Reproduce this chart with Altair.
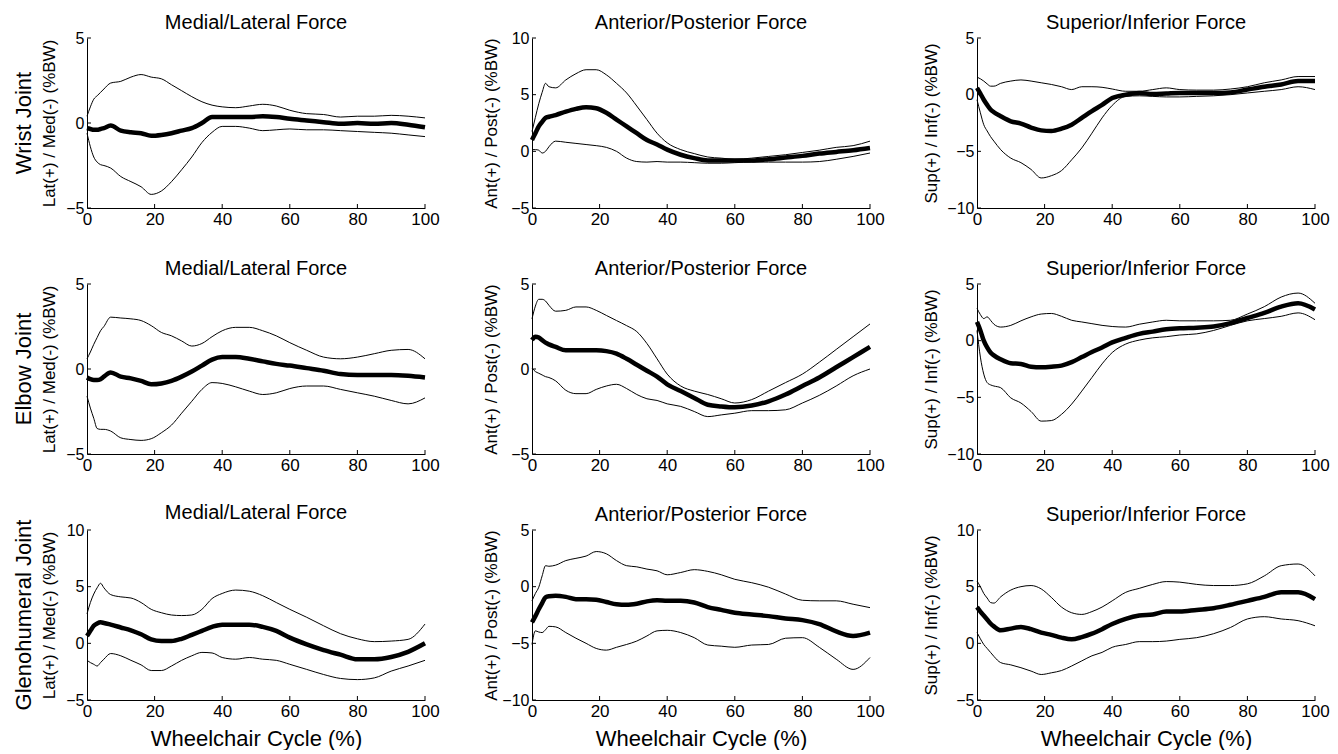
import altair as alt
import pandas as pd

FONT = "Liberation Sans"

# shared x samples (% of wheelchair cycle)
X = [0, 1, 2, 3, 4, 5, 7, 10, 13, 16, 19, 22, 25, 28, 31, 34, 37, 40, 44, 48, 52, 56, 60, 65, 70, 75, 80, 85, 90, 95, 100]
X_LABELS = [0, 20, 40, 60, 80, 100]
X_TICKS = [20, 40, 60, 80, 100]

# ---------- Wrist ----------
WRIST_ML_MEAN = [-0.3, -0.35, -0.4, -0.4, -0.35, -0.3, -0.15, -0.45, -0.55, -0.6, -0.75, -0.7, -0.6, -0.45, -0.3, 0.0, 0.35, 0.35, 0.35, 0.35, 0.4, 0.35, 0.25, 0.15, 0.05, -0.05, 0.0, -0.05, 0.0, -0.1, -0.25]
WRIST_ML_UP = [0.4, 0.95, 1.4, 1.6, 1.8, 2.0, 2.35, 2.45, 2.7, 2.85, 2.7, 2.6, 2.25, 1.9, 1.55, 1.25, 1.05, 0.95, 0.9, 1.0, 1.1, 1.0, 0.75, 0.55, 0.5, 0.35, 0.4, 0.4, 0.45, 0.4, 0.3]
WRIST_ML_LO = [-0.6, -1.4, -2.0, -2.3, -2.45, -2.5, -2.65, -3.15, -3.45, -3.75, -4.2, -4.0, -3.45, -2.75, -2.0, -1.15, -0.55, -0.2, -0.2, -0.3, -0.45, -0.4, -0.35, -0.4, -0.4, -0.45, -0.5, -0.55, -0.6, -0.7, -0.8]

WRIST_AP_MEAN = [1.0, 1.6, 2.2, 2.6, 2.95, 3.05, 3.2, 3.5, 3.75, 3.9, 3.8, 3.4, 2.8, 2.2, 1.6, 1.0, 0.6, 0.15, -0.3, -0.6, -0.8, -0.8, -0.8, -0.8, -0.7, -0.55, -0.4, -0.2, -0.05, 0.1, 0.3]
WRIST_AP_UP = [1.75, 3.0, 4.2, 5.2, 6.0, 5.7, 5.6, 6.3, 6.85, 7.2, 7.2, 6.75, 6.0, 5.15, 4.0, 2.8, 1.6, 0.75, 0.15, -0.2, -0.5, -0.6, -0.7, -0.6, -0.45, -0.3, -0.1, 0.1, 0.35, 0.5, 0.9]
WRIST_AP_LO = [0.15, 0.15, 0.1, -0.15, 0.0, 0.4, 0.9, 0.8, 0.7, 0.6, 0.5, 0.35, 0.0, -0.6, -0.9, -0.95, -0.9, -0.95, -0.95, -1.0, -1.05, -1.05, -1.0, -0.95, -0.95, -0.95, -0.95, -0.9, -0.7, -0.45, -0.15]

WRIST_SI_MEAN = [0.6, 0.1, -0.45, -0.9, -1.3, -1.55, -1.9, -2.35, -2.55, -2.9, -3.15, -3.2, -3.0, -2.65, -2.05, -1.45, -0.9, -0.3, 0.0, 0.15, 0.05, 0.1, 0.15, 0.15, 0.15, 0.2, 0.45, 0.7, 0.9, 1.2, 1.2]
WRIST_SI_UP = [1.55, 1.4, 1.2, 0.95, 0.75, 0.75, 1.0, 1.2, 1.3, 1.2, 1.05, 0.9, 0.7, 0.45, 0.7, 0.7, 0.65, 0.5, 0.3, 0.3, 0.45, 0.6, 0.45, 0.4, 0.4, 0.5, 0.7, 1.05, 1.3, 1.6, 1.6]
WRIST_SI_LO = [-0.45, -1.6, -2.65, -3.2, -3.7, -4.1, -4.85, -5.6, -6.0, -6.6, -7.35, -7.15, -6.7, -5.75, -4.7, -3.4, -2.05, -0.95, -0.15, -0.1, -0.15, -0.2, -0.2, -0.15, -0.1, 0.0, 0.15, 0.3, 0.45, 0.7, 0.45]

# ---------- Elbow ----------
ELBOW_ML_MEAN = [-0.5, -0.6, -0.65, -0.65, -0.6, -0.45, -0.2, -0.45, -0.55, -0.7, -0.9, -0.85, -0.7, -0.45, -0.15, 0.2, 0.55, 0.7, 0.7, 0.6, 0.45, 0.3, 0.2, 0.05, -0.1, -0.3, -0.35, -0.35, -0.35, -0.4, -0.5]
ELBOW_ML_UP = [0.6, 1.0, 1.45, 1.85, 2.25, 2.5, 3.05, 3.0, 2.95, 2.85, 2.55, 2.15, 1.95, 1.65, 1.35, 1.5, 1.9, 2.25, 2.45, 2.45, 2.25, 1.95, 1.55, 1.1, 0.7, 0.6, 0.7, 0.9, 1.1, 1.15, 0.6]
ELBOW_ML_LO = [-1.6, -2.3, -2.9, -3.5, -3.55, -3.55, -3.65, -4.05, -4.15, -4.2, -4.1, -3.75, -3.3, -2.6, -1.9, -1.2, -0.8, -0.85, -1.05, -1.3, -1.5, -1.4, -1.15, -1.0, -1.0, -1.2, -1.4, -1.6, -1.85, -2.05, -1.7]

ELBOW_AP_MEAN = [1.7, 1.9, 1.85, 1.7, 1.55, 1.45, 1.3, 1.1, 1.1, 1.1, 1.1, 1.05, 0.9, 0.6, 0.25, -0.1, -0.45, -0.9, -1.3, -1.7, -2.1, -2.2, -2.25, -2.15, -1.9, -1.5, -1.0, -0.5, 0.1, 0.7, 1.3]
ELBOW_AP_UP = [2.95, 3.7, 4.1, 4.1, 4.0, 3.75, 3.4, 3.45, 3.65, 3.65, 3.45, 3.15, 2.85, 2.55, 2.2, 1.5, 0.6, -0.3, -1.0, -1.3, -1.5, -1.75, -2.0, -1.8, -1.3, -0.8, -0.3, 0.4, 1.15, 1.9, 2.65]
ELBOW_AP_LO = [0.05, -0.15, -0.25, -0.35, -0.45, -0.5, -0.7, -1.25, -1.45, -1.45, -1.2, -1.0, -0.9, -1.15, -1.5, -1.75, -1.85, -2.05, -2.2, -2.5, -2.8, -2.7, -2.6, -2.45, -2.45, -2.4, -2.0, -1.55, -1.0, -0.4, 0.0]

ELBOW_SI_MEAN = [1.65, 0.9, 0.0, -0.6, -1.05, -1.3, -1.65, -2.0, -2.05, -2.3, -2.35, -2.3, -2.2, -1.9, -1.45, -1.0, -0.6, -0.15, 0.25, 0.6, 0.8, 1.0, 1.1, 1.15, 1.25, 1.55, 2.0, 2.45, 3.0, 3.3, 2.75]
ELBOW_SI_UP = [2.85, 2.3, 1.95, 2.1, 1.8, 1.45, 1.2, 1.35, 1.75, 2.1, 2.35, 2.4, 2.15, 1.8, 1.65, 1.5, 1.35, 1.25, 1.2, 1.45, 1.65, 1.8, 1.75, 1.75, 1.75, 1.8, 2.35, 3.0, 3.85, 4.2, 3.3]
ELBOW_SI_LO = [0.9, -1.45, -2.95, -3.7, -3.9, -4.0, -4.15, -5.05, -5.5, -6.25, -7.1, -7.05, -6.5, -5.6, -4.45, -3.25, -2.05, -1.05, -0.3, 0.05, 0.25, 0.35, 0.5, 0.6, 0.9, 1.35, 1.75, 1.95, 2.15, 2.45, 1.85]

# ---------- Glenohumeral ----------
GH_ML_MEAN = [0.65, 1.1, 1.55, 1.75, 1.85, 1.8, 1.65, 1.4, 1.15, 0.8, 0.35, 0.2, 0.2, 0.4, 0.75, 1.1, 1.45, 1.65, 1.65, 1.65, 1.45, 1.1, 0.5, -0.1, -0.6, -1.0, -1.4, -1.4, -1.2, -0.75, 0.0]
GH_ML_UP = [2.6, 3.6, 4.35, 4.9, 5.3, 4.9, 4.3, 4.1, 4.0, 3.6, 3.0, 2.7, 2.5, 2.45, 2.5, 3.0, 3.95, 4.4, 4.7, 4.6, 4.2, 3.6, 3.0, 2.3, 1.55, 0.85, 0.4, 0.15, 0.2, 0.35, 1.7]
GH_ML_LO = [-1.5, -1.7, -1.85, -2.0, -1.7, -1.4, -0.9, -1.1, -1.5, -1.9, -2.4, -2.4, -2.0, -1.5, -1.1, -0.8, -0.85, -1.25, -1.4, -1.25, -1.4, -1.5, -1.85, -2.3, -2.75, -3.1, -3.2, -3.05, -2.45, -2.0, -1.5]

GH_AP_MEAN = [-3.15, -2.6, -2.0, -1.45, -0.95, -0.85, -0.8, -0.9, -1.1, -1.1, -1.15, -1.35, -1.55, -1.6, -1.5, -1.3, -1.2, -1.25, -1.25, -1.4, -1.8, -2.05, -2.3, -2.45, -2.6, -2.8, -2.95, -3.3, -3.95, -4.35, -4.05]
GH_AP_UP = [-1.25, -0.6, -0.05, 0.95, 1.85, 1.8, 1.9, 2.3, 2.5, 2.7, 3.1, 2.9, 2.3, 1.85, 1.75, 1.55, 1.4, 1.05, 1.25, 1.5, 1.35, 1.05, 0.65, 0.35, -0.05, -0.65, -1.2, -1.25, -1.25, -1.55, -1.85]
GH_AP_LO = [-5.1, -3.9, -4.0, -4.05, -3.8, -3.5, -3.55, -4.05, -4.55, -5.0, -5.45, -5.6, -5.35, -5.1, -4.8, -4.35, -3.9, -3.85, -4.05, -4.5, -5.15, -5.25, -5.35, -5.15, -5.1, -4.55, -4.5, -5.35, -6.4, -7.3, -6.25]

GH_SI_MEAN = [3.2, 2.8, 2.45, 2.1, 1.75, 1.5, 1.15, 1.3, 1.45, 1.25, 0.95, 0.75, 0.5, 0.35, 0.55, 0.85, 1.25, 1.7, 2.15, 2.45, 2.55, 2.8, 2.8, 2.95, 3.1, 3.4, 3.75, 4.1, 4.5, 4.5, 3.9]
GH_SI_UP = [5.5, 5.0, 4.4, 4.0, 3.6, 3.55, 4.1, 4.7, 5.0, 5.1, 4.8, 4.05, 3.2, 2.7, 2.55, 2.8, 3.2, 3.75, 4.5, 4.85, 5.2, 5.45, 5.4, 5.2, 5.1, 5.1, 5.25, 5.95, 6.85, 7.0, 5.95]
GH_SI_LO = [0.95, 0.4, -0.1, -0.45, -0.8, -1.15, -1.7, -1.9, -2.15, -2.45, -2.75, -2.6, -2.4, -2.0, -1.55, -1.1, -0.8, -0.35, -0.1, 0.15, 0.15, 0.2, 0.35, 0.5, 0.85, 1.4, 2.15, 2.35, 2.15, 2.0, 1.55]

ROW_LABELS = ["Wrist Joint", "Elbow Joint", "Glenohumeral Joint"]
COL_TITLES = ["Medial/Lateral Force", "Anterior/Posterior Force", "Superior/Inferior Force"]
Y_TITLES = ["Lat(+) / Med(-) (%BW)", "Ant(+) / Post(-) (%BW)", "Sup(+) / Inf(-) (%BW)"]
X_TITLE = "Wheelchair Cycle (%)"

Y_DOMAINS = [
    [[-5, 5], [-5, 10], [-10, 5]],
    [[-5, 5], [-5, 5], [-10, 5]],
    [[-5, 10], [-10, 5], [-5, 10]],
]
Y_TICKS = [
    [[-5, 0, 5], [-5, 0, 5, 10], [-10, -5, 0, 5]],
    [[-5, 0, 5], [-5, 0, 5], [-10, -5, 0, 5]],
    [[-5, 0, 5, 10], [-10, -5, 0, 5], [-5, 0, 5, 10]],
]
SERIES = [
    [(WRIST_ML_MEAN, WRIST_ML_UP, WRIST_ML_LO), (WRIST_AP_MEAN, WRIST_AP_UP, WRIST_AP_LO), (WRIST_SI_MEAN, WRIST_SI_UP, WRIST_SI_LO)],
    [(ELBOW_ML_MEAN, ELBOW_ML_UP, ELBOW_ML_LO), (ELBOW_AP_MEAN, ELBOW_AP_UP, ELBOW_AP_LO), (ELBOW_SI_MEAN, ELBOW_SI_UP, ELBOW_SI_LO)],
    [(GH_ML_MEAN, GH_ML_UP, GH_ML_LO), (GH_AP_MEAN, GH_AP_UP, GH_AP_LO), (GH_SI_MEAN, GH_SI_UP, GH_SI_LO)],
]

W, H = 338, 170
Y_TITLE_X = [-38, -41, -46]


def panel(r, c):
    mean, up, lo = SERIES[r][c]
    n = len(X)
    df = pd.DataFrame({
        "x": X * 3,
        "v": list(up) + list(lo) + list(mean),
        "s": ["upper"] * n + ["lower"] * n + ["mean"] * n,
    })
    xscale = alt.Scale(domain=[0, 100], nice=False, zero=False)
    yscale = alt.Scale(domain=Y_DOMAINS[r][c], nice=False, zero=False)

    xaxis_kw = dict(values=X_LABELS, ticks=False, grid=False, domainColor="black", domainWidth=1,
                    labelFont=FONT, labelFontSize=17, labelColor="black", labelPadding=3,
                    labelFlush=False)
    if r == 2:
        xaxis_kw.update(title=X_TITLE, titleFont=FONT, titleFontSize=22, titleFontWeight="normal",
                        titleColor="black", titleBaseline="alphabetic", titleY=45)
    else:
        xaxis_kw.update(title=None)
    yaxis_kw = dict(values=Y_TICKS[r][c], ticks=False, grid=False, domainColor="black", domainWidth=1,
                    labelFont=FONT, labelFontSize=16, labelColor="black", labelPadding=3,
                    title=Y_TITLES[c], titleFont=FONT, titleFontSize=17, titleFontWeight="normal",
                    titleColor="black", titleAngle=270, titleAlign="center", titleBaseline="middle",
                    titleX=Y_TITLE_X[c], titleY=H / 2)

    def xenc():
        return alt.X("x:Q", scale=xscale, axis=alt.Axis(**xaxis_kw))

    def yenc():
        return alt.Y("v:Q", scale=yscale, axis=alt.Axis(**yaxis_kw))

    base = alt.Chart(df)
    thin = base.transform_filter("datum.s != 'mean'").mark_line(
        color="black", strokeWidth=1, interpolate="monotone"
    ).encode(x=xenc(), y=yenc(), detail="s:N")
    thick = base.transform_filter("datum.s == 'mean'").mark_line(
        color="black", strokeWidth=4.5, interpolate="monotone"
    ).encode(x=xenc(), y=yenc())
    yt = alt.Chart(pd.DataFrame({"v": Y_TICKS[r][c]})).mark_rule(color="black", strokeWidth=1).encode(
        y=yenc(), x=alt.value(0), x2=alt.value(4)
    )
    xt = alt.Chart(pd.DataFrame({"x": X_TICKS})).mark_rule(color="black", strokeWidth=1).encode(
        x=xenc(), y=alt.value(H), y2=alt.value(H - 4)
    )
    layers = [thin, thick, yt, xt]
    if c == 0:
        lab = alt.Chart(pd.DataFrame({"label": [ROW_LABELS[r]]})).mark_text(
            angle=270, font=FONT, fontSize=22, color="black", align="center", baseline="middle"
        ).encode(x=alt.value(-63), y=alt.value(H / 2), text="label:N")
        layers.append(lab)
    return alt.layer(*layers).properties(
        width=W, height=H,
        title=alt.TitleParams(COL_TITLES[c], font=FONT, fontSize=20, fontWeight="normal",
                              color="black", anchor="middle", frame="group", offset=-3),
    )


panels = [panel(r, c) for r in range(3) for c in range(3)]
chart = alt.concat(*panels, columns=3, spacing={"row": 76, "column": 107}, bounds="flush").properties(
    padding={"left": 4, "top": 4, "right": 0, "bottom": 0}
).configure_view(stroke="transparent")

chart.save("out.html", embed_options={"renderer": "svg", "actions": False})
